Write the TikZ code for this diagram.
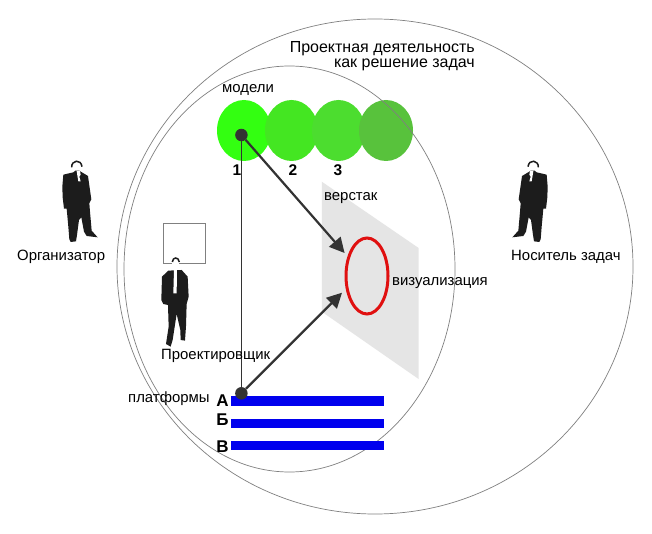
\documentclass[tikz,border=0pt]{standalone}
\usepackage{fontspec}
\setmainfont{Liberation Sans}
\usetikzlibrary{arrows.meta,shapes.geometric}
\definecolor{gA}{HTML}{33FF11}
\definecolor{gB}{HTML}{44E622}
\definecolor{gC}{HTML}{4CDD2F}
\definecolor{gD}{HTML}{58C23C}
\definecolor{ink}{HTML}{333333}
\definecolor{suit}{HTML}{1C1C1C}
\definecolor{plate}{HTML}{E5E5E5}
\definecolor{bar}{HTML}{0000EE}
\definecolor{ringred}{HTML}{E01010}
\tikzset{
  x=1pt,y=-1pt,
  label/.style={inner sep=0pt,font=\fontsize{14.9}{16}\selectfont},
  title/.style={inner sep=0pt,align=right,font=\fontsize{16}{15.3}\selectfont},
  num/.style={inner sep=0pt,font=\fontsize{15.5}{16}\selectfont\bfseries},
  big/.style={inner sep=0pt,font=\fontsize{17}{18}\selectfont\bfseries},
  ring/.style={draw=black!50,line width=0.7pt,fill=none},
  blob/.style={ellipse,draw=none,inner sep=0pt,minimum height=61pt},
  dotn/.style={circle,fill=ink,draw=none,inner sep=0pt,minimum size=12.5pt},
  pbar/.style={fill=bar,draw=none},
  arrowline/.style={draw=ink,line width=2.2pt,-{Triangle[length=15pt,width=15pt,sep=0pt]}}
}
\newcommand{\sideman}{%
  \fill[suit] (100,97) -- (70,104) -- (67,140) -- (68,172) -- (72,206) -- (80,206)
     -- (85,260) -- (88,298) -- (92,306) -- (108,304) -- (111,285) -- (117,240) -- (124,232)
     -- (132,275) -- (140,288) -- (173,292) -- (155,272) -- (150,215) -- (148,190) -- (154,178)
     -- (144,108) -- (124,96) -- (118,92) -- (106,92) -- cycle;
  \fill[white] (110,93) -- (120,93) -- (122,104) -- (118,110) -- (122,124) -- (115,124) -- (112,106) -- cycle;
  \draw[suit,line width=1.5pt] (95,82) .. controls (94,60) and (123,56) .. (126,80);
}
\begin{document}
\begin{tikzpicture}
\useasboundingbox (0,0) rectangle (652,534);
\fill[white] (0,0) rectangle (652,534);
% models
\node[blob,fill=gA,minimum width=54pt] (m1) at (244,130.5) {};
\node[blob,fill=gB,minimum width=53pt] (m2) at (291.5,130.5) {};
\node[blob,fill=gC,minimum width=53pt] (m3) at (338.5,130.5) {};
\node[blob,fill=gD,minimum width=54pt] (m4) at (386,130.5) {};
% rings
\node[ellipse,ring,inner sep=0pt,minimum width=516pt,minimum height=495pt] (outer) at (375,266.5) {};
\node[ellipse,ring,inner sep=0pt,minimum width=331pt,minimum height=406pt] (inner) at (289.5,269) {};
% workbench
\fill[plate] (321.8,181.7) -- (418.6,248) -- (418.6,379) -- (321.8,311.7) -- cycle;
\node[ellipse,draw=ringred,line width=3pt,inner sep=0pt,minimum width=42pt,minimum height=76pt] (viz) at (367,276) {};
% platforms
\fill[pbar] (231,396) rectangle (384,405.5);
\fill[pbar] (231,418.5) rectangle (384,428);
\fill[pbar] (231,441) rectangle (384,450);
% connectors
\node[dotn] (top) at (241.4,135) {};
\node[dotn] (bot) at (241.4,393.3) {};
\coordinate (tipA) at (344.6,253);
\coordinate (tipB) at (342,292.7);
\draw[ink,line width=0.9pt] (top) -- (bot);
\draw[arrowline] (top) -- (tipA);
\draw[arrowline] (bot) -- (tipB);
% frame
\draw[black!50,line width=1pt,fill=white] (163.5,224) rectangle (205.6,263);
% persons
\begin{scope}[shift={(40,140)},x=0.3333pt,y=-0.3333pt]\sideman\end{scope}
\begin{scope}[shift={(570,150)},x=-0.3333pt,y=-0.3333pt]\begin{scope}[shift={(0,-30)}]\sideman\end{scope}\end{scope}
\begin{scope}[shift={(40,140)},x=0.3333pt,y=-0.3333pt]
  \fill[white] (396,352) rectangle (418,392);
  \draw[suit,line width=1.5pt] (397,366) .. controls (398,350) and (416,350) .. (418,366);
  \fill[suit] (385,392) -- (366,410) -- (364,480) -- (370,492) -- (384,495) -- (386,560) -- (378,612) -- (392,620)
     -- (398,600) -- (410,522) -- (421,570) -- (422,600) -- (435,602) -- (438,560) -- (440,492) -- (446,470) -- (443,410) -- (425,390) -- cycle;
  \fill[white] (402,390) -- (411,390) -- (410,460) -- (400,460) -- cycle;
\end{scope}
% texts
\node[title,anchor=east] (t1) at (475,56.5) {Проектная деятельность\\как решение задач};
\node[label,anchor=west] (tm) at (222,89.5) {модели};
\node[num] (n1) at (237,170) {1};
\node[num] (n2) at (293,170) {2};
\node[num] (n3) at (338,170) {3};
\node[label,anchor=west] (tv) at (324,198.5) {верстак};
\node[label,anchor=west] (tz) at (392,283) {визуализация};
\node[label,anchor=west] (to) at (17,257) {Организатор};
\node[label,anchor=west] (tn) at (511,257) {Носитель задач};
\node[label,anchor=west] (tp) at (161,356) {Проектировщик};
\node[label,anchor=west] (tpl) at (128,399) {платформы};
\node[big] (a) at (222.5,401) {А};
\node[big] (b) at (222.5,420) {Б};
\node[big] (c) at (222.5,447) {В};
\end{tikzpicture}
\end{document}
